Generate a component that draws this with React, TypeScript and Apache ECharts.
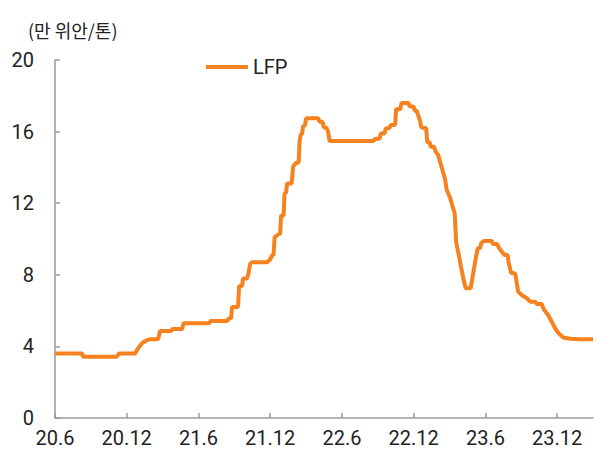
import React, { useEffect, useRef } from "react";
import * as echarts from "echarts";

// months since 2020-06 (x) and price in 만 위안/톤 (y)
const months = [
  0, 2.28, 2.34, 5.16, 5.36, 6.69, 6.86, 7.26, 7.53, 7.95, 8.62, 8.79, 9.71, 9.83, 10.63, 10.75,
  12.89, 13.01, 14.39, 14.56, 14.73, 14.81, 15.31, 15.4, 15.65, 15.73, 16.07, 16.19, 16.32, 16.48,
  17.74, 17.99, 18.16, 18.28, 18.37, 18.66, 18.83, 18.91, 19.12, 19.2, 19.33, 19.41, 19.79, 19.92,
  20.17, 20.38, 20.46, 20.54, 20.67, 20.75, 20.92, 21.0, 22.01, 22.13, 22.38, 22.47, 22.72, 22.84,
  22.97, 26.61, 26.78, 27.15, 27.24, 27.57, 27.66, 27.99, 28.07, 28.45, 28.53, 28.87, 28.99, 29.58,
  29.66, 30.0, 30.08, 30.25, 30.38, 30.54, 30.63, 30.88, 31.05, 31.13, 31.34, 31.42, 31.71, 31.84,
  32.05, 32.47, 32.64, 32.76, 33.05, 33.22, 33.43, 33.56, 33.81, 33.97, 34.14, 34.35, 34.77, 34.98,
  35.19, 35.36, 35.56, 35.65, 35.86, 36.53, 36.61, 36.99, 37.11, 37.36, 37.61, 37.87, 37.95, 38.16,
  38.49, 38.74, 39.04, 39.46, 39.75, 40.17, 40.29, 40.71, 40.88, 41.25, 41.55, 41.84, 42.13, 42.51,
  43.1, 43.93, 45.0,
];
const lfp = [
  3.61, 3.61, 3.42, 3.42, 3.6, 3.6, 3.8, 4.17, 4.3, 4.4, 4.4, 4.86, 4.86, 4.97, 4.97, 5.29,
  5.29, 5.42, 5.42, 5.57, 5.57, 6.2, 6.2, 7.37, 7.37, 7.8, 7.8, 8.1, 8.6, 8.7,
  8.7, 8.85, 9.1, 9.1, 10.1, 10.25, 10.3, 11.3, 11.3, 12.55, 12.6, 13.1, 13.1, 14.05,
  14.26, 14.26, 15.45, 15.8, 15.9, 16.3, 16.35, 16.75, 16.75, 16.55, 16.55, 16.25, 16.2, 16.0,
  15.47, 15.47, 15.6, 15.6, 15.9, 15.9, 16.18, 16.2, 16.37, 16.37, 17.25, 17.25, 17.6, 17.6,
  17.4, 17.4, 17.17, 17.17, 16.9, 16.6, 16.25, 16.2, 16.2, 15.4, 15.4, 15.15, 15.15, 14.88,
  14.7, 13.7, 13.3, 12.75, 12.3, 11.9, 11.45, 9.8, 9.0, 8.4, 7.85, 7.25, 7.25, 8.08,
  8.92, 9.48, 9.5, 9.76, 9.89, 9.89, 9.72, 9.72, 9.53, 9.3, 9.1, 9.1, 8.64, 8.1,
  8.08, 7.06, 6.87, 6.69, 6.5, 6.5, 6.37, 6.37, 6.07, 5.75, 5.38, 5.0, 4.73, 4.5,
  4.43, 4.4, 4.4,
];
const tickMonths = [0, 6, 12, 18, 24, 30, 36, 42];
const tickLabels = ["20.6", "20.12", "21.6", "21.12", "22.6", "22.12", "23.6", "23.12"];
const unitLabel = "(만 위안/톤)";
const seriesName = "LFP";

export default function App() {
  const ref = useRef<HTMLDivElement>(null);
  useEffect(() => {
    if (!ref.current) return;
    const chart = echarts.init(ref.current, undefined, { renderer: "svg" });
    const axisColor = "#9a9a9a";
    const textColor = "#222";
    const lineColor = "#F5821F";
    const numFont = "Roboto, 'Noto Sans', sans-serif";
    chart.setOption({
      animation: false,
      title: {
        text: unitLabel,
        left: 23,
        top: 16,
        textStyle: {
          fontSize: 18,
          fontWeight: "normal",
          color: textColor,
          fontFamily: "'Noto Sans CJK KR', sans-serif",
        },
      },
      legend: {
        data: [{ name: seriesName, icon: "rect" }],
        left: 201,
        top: 52,
        itemWidth: 42,
        itemHeight: 4,
        itemStyle: { color: lineColor },
        textStyle: { fontSize: 20, color: textColor, fontFamily: numFont },
      },
      grid: { left: 55, right: 15, top: 60, bottom: 32, containLabel: false },
      xAxis: {
        type: "value",
        min: 0,
        max: 45,
        interval: 6,
        splitLine: { show: false },
        axisLine: { lineStyle: { color: axisColor, width: 1.5 } },
        axisTick: {
          inside: true,
          length: 5,
          lineStyle: { color: axisColor, width: 1.5 },
          customValues: tickMonths,
        },
        axisLabel: {
          customValues: tickMonths,
          formatter: (v: number) => {
            const i = tickMonths.indexOf(Math.round(v));
            return i >= 0 ? tickLabels[i] : "";
          },
          fontSize: 20,
          lineHeight: 20,
          color: textColor,
          fontFamily: numFont,
          margin: 10,
        },
      },
      yAxis: {
        type: "value",
        min: 0,
        max: 20,
        interval: 4,
        splitLine: { show: false },
        axisLine: { show: true, lineStyle: { color: axisColor, width: 1.5 } },
        axisTick: { show: true, inside: true, length: 5, lineStyle: { color: axisColor, width: 1.5 } },
        axisLabel: { fontSize: 20, color: textColor, fontFamily: numFont, margin: 21 },
      },
      series: [
        {
          name: seriesName,
          type: "line",
          data: months.map((m, i) => [m, lfp[i]]),
          symbol: "none",
          lineStyle: { color: lineColor, width: 4 },
          itemStyle: { color: lineColor },
        },
      ],
    });
    return () => chart.dispose();
  }, []);
  return <div ref={ref} style={{ width: 608, height: 450, position: "absolute", left: 0, top: 0 }} />;
}
